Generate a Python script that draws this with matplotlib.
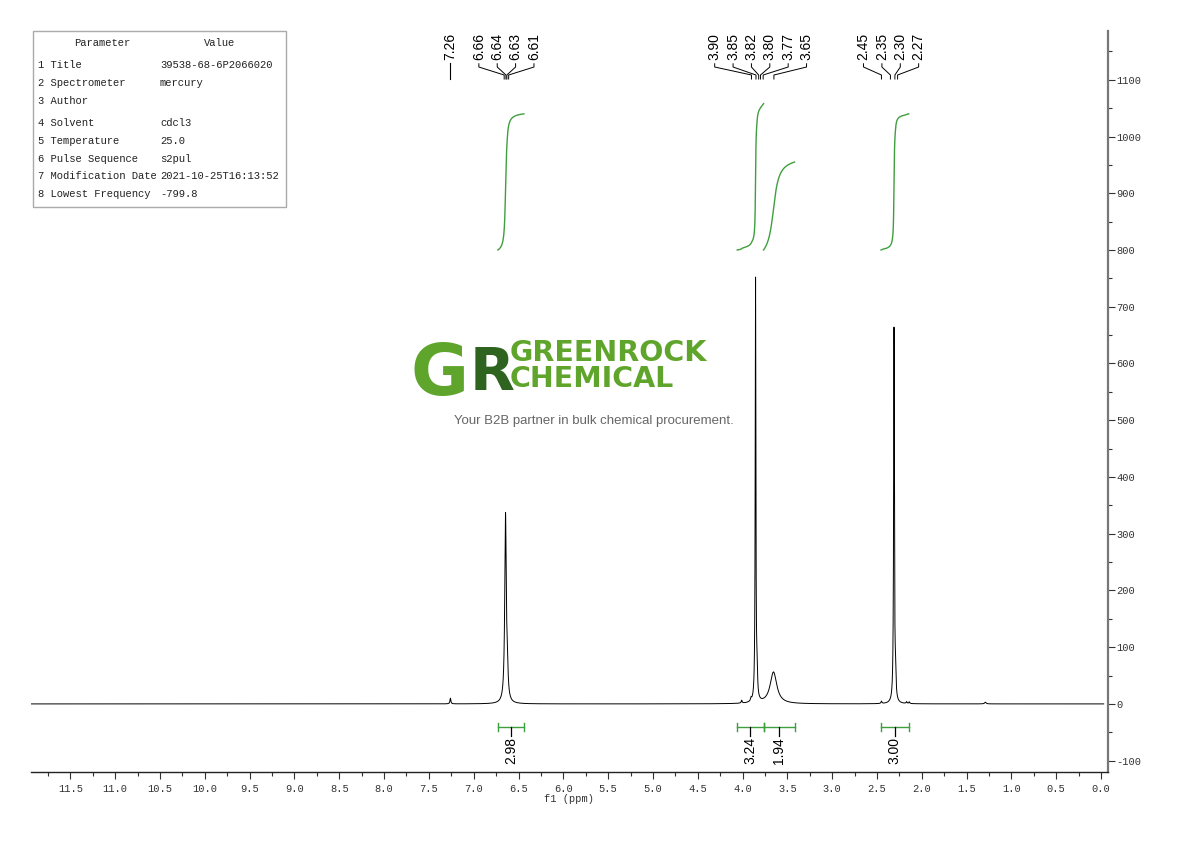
import numpy as np
import matplotlib
matplotlib.use('Agg')
import matplotlib.pyplot as plt
import matplotlib.transforms as mtransforms
from matplotlib.patches import Rectangle
from matplotlib.ticker import MultipleLocator, FuncFormatter

# ---------------- data ----------------
peak_ppm = [7.26, 6.645, 6.625, 4.01, 3.905, 3.855, 3.838, 3.655, 2.45, 2.31, 2.293, 2.17, 2.14, 1.29]
peak_height = [10, 330, 45, 5, 5, 745, 42, 56, 4, 660, 36, 3, 3, 3]
peak_hwhm = [0.006, 0.010, 0.009, 0.006, 0.006, 0.0045, 0.006, 0.045, 0.006, 0.005, 0.006, 0.006, 0.006, 0.01]

label_groups = [[7.26], [6.66, 6.64, 6.63, 6.61],
                [3.90, 3.85, 3.82, 3.80, 3.77, 3.65],
                [2.45, 2.35, 2.30, 2.27]]

int_regions = [(6.73, 6.44), (4.06, 3.765), (3.765, 3.42), (2.455, 2.145)]
int_labels = ['2.98', '3.24', '1.94', '3.00']
int_curve_base = [800, 800, 800, 800]
int_curve_span = [240, 258, 155, 240]

param_names = ['1 Title', '2 Spectrometer', '3 Author', '4 Solvent', '5 Temperature',
               '6 Pulse Sequence', '7 Modification Date', '8 Lowest Frequency']
param_values = ['39538-68-6P2066020', 'mercury', '', 'cdcl3', '25.0', 's2pul',
                '2021-10-25T16:13:52', '-799.8']

x_left, x_right = 11.94, -0.078
y_bottom, y_top = -120, 1186

# ---------------- figure ----------------
W, H = 1190, 841
fig = plt.figure(figsize=(W / 100, H / 100), dpi=100)
ax_l, ax_r, ax_t, ax_b = 31, 1108, 31, 772
ax = fig.add_axes([ax_l / W, 1 - ax_b / H, (ax_r - ax_l) / W, (ax_b - ax_t) / H])

ppm = np.linspace(x_left, -0.03, 60000)
spec = np.zeros_like(ppm)
for p, h, w in zip(peak_ppm, peak_height, peak_hwhm):
    spec += h * w ** 2 / ((ppm - p) ** 2 + w ** 2)
ax.plot(ppm, spec, color='black', lw=0.7)

green = '#3f9f3f'
# integral curves
for (a, b), base, span in zip(int_regions, int_curve_base, int_curve_span):
    m = (ppm <= a) & (ppm >= b)
    seg_x = ppm[m]
    seg_y = spec[m]
    cum = np.cumsum(seg_y)
    cum = (cum - cum[0]) / (cum[-1] - cum[0])
    ax.plot(seg_x, base + span * cum, color=green, lw=1.0)

# integral bars
bar_y = -40
for (a, b), lab in zip(int_regions, int_labels):
    c = (a + b) / 2
    ax.plot([a, b], [bar_y, bar_y], color=green, lw=1.0)
    ax.plot([a, a], [bar_y - 7, bar_y + 7], color=green, lw=1.0)
    ax.plot([b, b], [bar_y - 7, bar_y + 7], color=green, lw=1.0)
    ax.plot([c, c], [bar_y, bar_y - 16], color='black', lw=0.9)
    ax.text(c, bar_y - 18, lab, rotation=90, ha='center', va='top',
            fontsize=10, family='Liberation Sans')

# peak labels with connectors
trans = mtransforms.blended_transform_factory(ax.transData, ax.transAxes)
spacing = 0.205
f_txt, f_v1, f_v2, f_end = 0.9568, 0.9514, 0.9406, 0.9352
for grp in label_groups:
    n = len(grp)
    mean = np.mean(grp)
    for i, v in enumerate(grp):
        lx = mean + ((n - 1) / 2 - i) * spacing
        if n == 1:
            ax.plot([v, v], [f_end, f_txt], color='black', lw=0.8, transform=trans)
        else:
            ax.plot([lx, lx, v, v], [f_txt - 0.001, f_v1, f_v2, f_end],
                    color='black', lw=0.7, transform=trans)
        ax.text(lx, f_txt + 0.004, f'{v:.2f}', rotation=90, ha='center', va='bottom',
                fontsize=10, family='Liberation Sans', transform=trans)

ax.set_xlim(x_left, x_right)
ax.set_ylim(y_bottom, y_top)

for s in ['top', 'left']:
    ax.spines[s].set_visible(False)
ax.spines['right'].set_color('#777777')
ax.spines['right'].set_linewidth(1.6)
ax.spines['bottom'].set_color('#222222')
ax.spines['bottom'].set_linewidth(1.0)

ax.xaxis.set_major_locator(MultipleLocator(0.5))
ax.xaxis.set_minor_locator(MultipleLocator(0.25))
ax.xaxis.set_major_formatter(FuncFormatter(lambda v, p: f'{v:.1f}'))
ax.yaxis.set_major_locator(MultipleLocator(100))
ax.yaxis.set_minor_locator(MultipleLocator(50))
ax.yaxis.tick_right()
ax.yaxis.set_major_formatter(FuncFormatter(lambda v, p: f'{int(round(v))}'))
ax.tick_params(axis='x', which='major', direction='out', length=5, width=0.8,
               labelsize=7.5, colors='#333333', pad=4)
ax.tick_params(axis='x', which='minor', direction='out', length=3, width=0.8, colors='#333333')
ax.tick_params(axis='y', which='major', direction='out', length=5, width=0.8,
               labelsize=7.5, colors='#333333', pad=1)
ax.tick_params(axis='y', which='minor', direction='out', length=3, width=0.8, colors='#333333')
for lbl in ax.get_xticklabels() + ax.get_yticklabels():
    lbl.set_family('Liberation Mono')
ax.set_xlabel('f1 (ppm)', fontsize=7.5, family='Liberation Mono', color='#333333', labelpad=0)

# ---------------- parameter table ----------------
def fx(px):
    return px / W

def fy(py):
    return 1 - py / H

fig.patches.append(Rectangle((fx(33), fy(207)), fx(286) - fx(33), fy(31) - fy(207),
                             transform=fig.transFigure, fill=False,
                             edgecolor='#aaaaaa', lw=1.0))
tfont = dict(fontsize=7.6, family='Liberation Mono', color='#222222', va='center')
fig.text(fx(102), fy(43), 'Parameter', ha='center', **tfont)
fig.text(fx(220), fy(43), 'Value', ha='center', **tfont)
row_y = [65, 83, 101, 123, 141, 159, 176, 194]
for ry, nm, vl in zip(row_y, param_names, param_values):
    fig.text(fx(38), fy(ry), nm, ha='left', **tfont)
    fig.text(fx(160), fy(ry), vl, ha='left', **tfont)

# ---------------- watermark logo ----------------
renderer = fig.canvas.get_renderer()
tG = fig.text(fx(411), fy(395), 'G', fontsize=51, fontweight='bold', family='DejaVu Sans',
              color='#5fa52c', ha='left', va='baseline')
gx1 = tG.get_window_extent(renderer).x1
tR = fig.text((gx1 + 0.5) / W, fy(390), 'R', fontsize=42, fontweight='bold', family='DejaVu Sans',
              color='#2f6420', ha='left', va='baseline')
rx1 = tR.get_window_extent(renderer).x1
fig.text((rx1 - 5) / W, fy(387), 'GREENROCK\nCHEMICAL', fontsize=20.5, fontweight='bold',
         family='DejaVu Sans', color='#5fa52c', ha='left', va='baseline',
         multialignment='left', linespacing=0.91)
fig.text(fx(594), fy(421), 'Your B2B partner in bulk chemical procurement.', fontsize=9.5,
         family='Liberation Sans', color='#666666', ha='center', va='center')

fig.savefig('out.png', dpi=100, facecolor='white')
